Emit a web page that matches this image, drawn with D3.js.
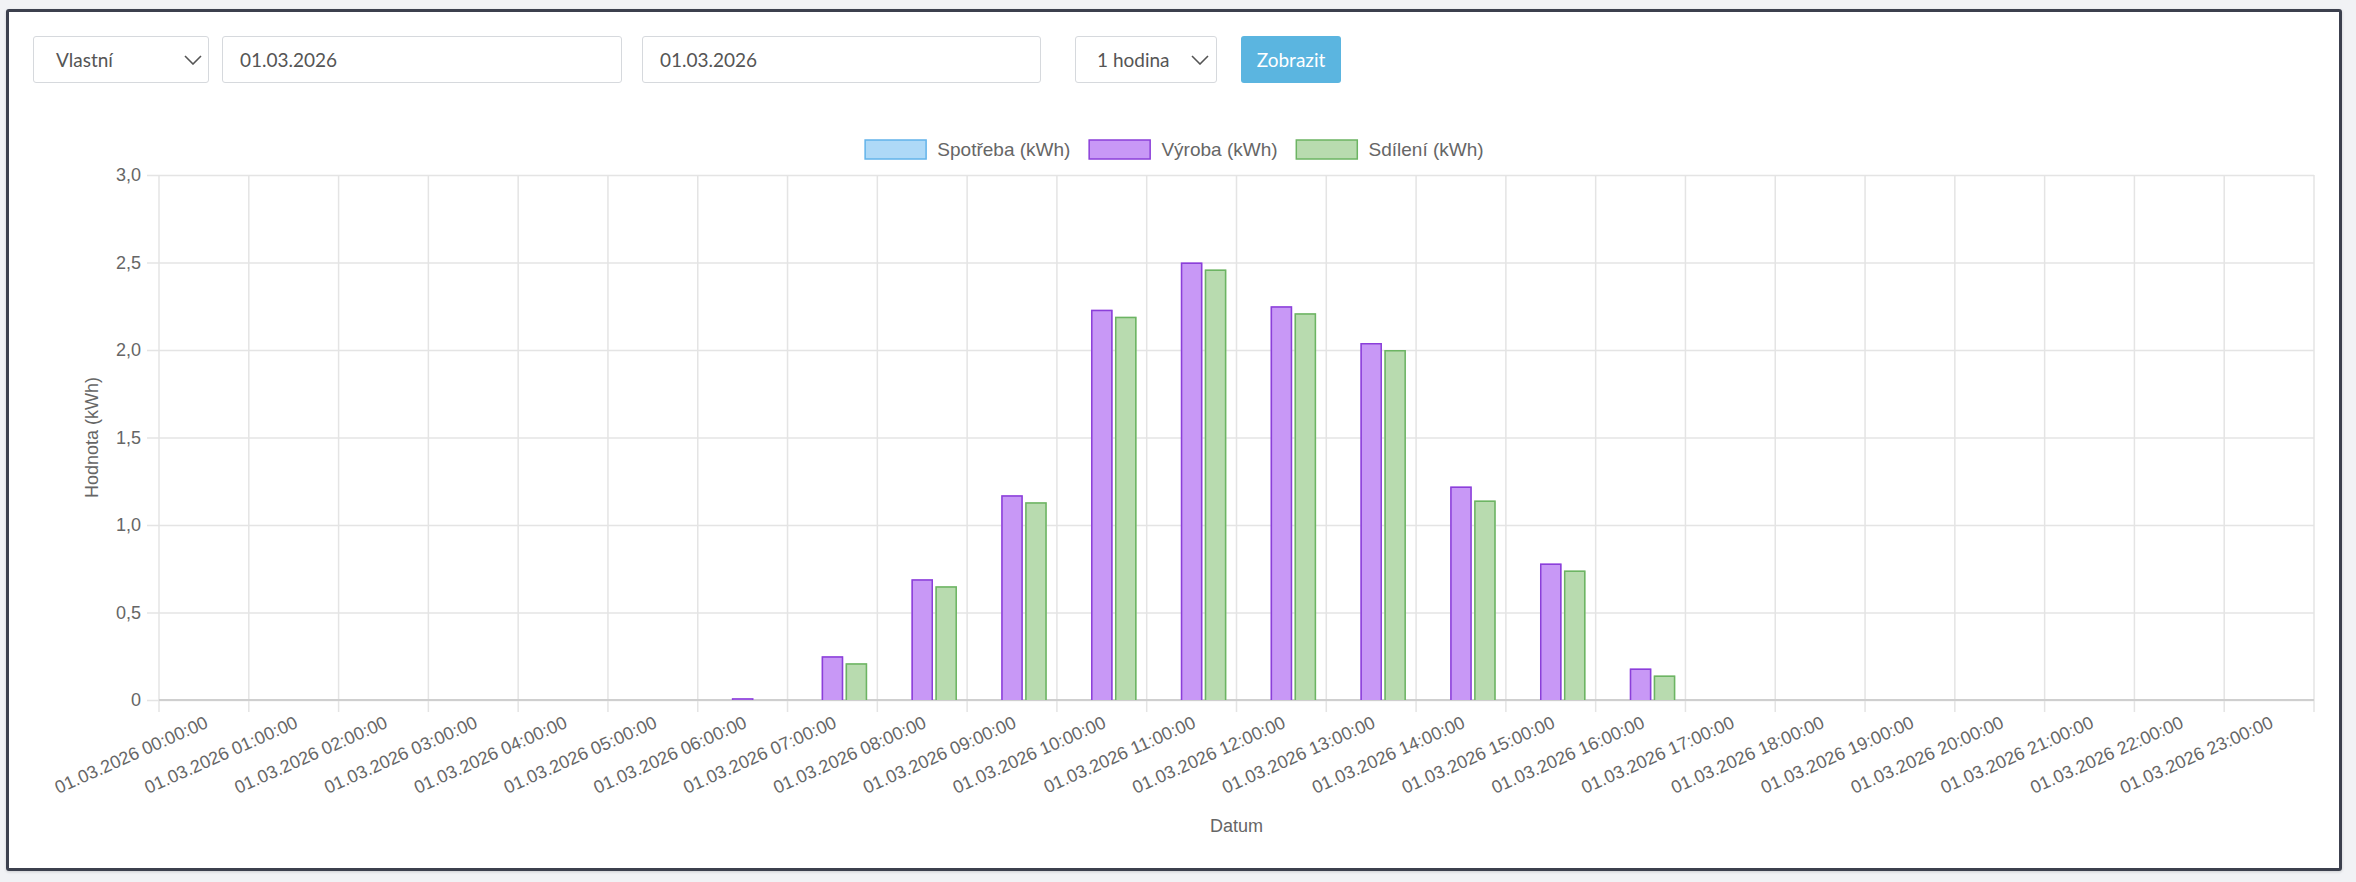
<!DOCTYPE html>
<html>
<head>
<meta charset="utf-8">
<script src="https://cdn.jsdelivr.net/npm/d3@7"></script>
<style>
  html, body { margin: 0; padding: 0; }
  body { width: 2356px; height: 882px; background: #f1f2f5; position: relative; overflow: hidden; font-family: Lato, "Open Sans", sans-serif; }
  .frame { position: absolute; left: 6px; top: 9px; width: 2330px; height: 856px; border: 3px solid #3c404e; border-radius: 3px; background: #fff; box-shadow: 0 1px 3px rgba(0,0,0,0.15); }
  .ctl { position: absolute; top: 36px; height: 45px; border: 1px solid #d6d9dd; border-radius: 3px; background: #fff; box-sizing: content-box; font-size: 19px; color: #555; line-height: 45px; }
  .ctl span { position: absolute; top: 0; }
  .ctl svg { position: absolute; top: 18px; }
  .btn { position: absolute; top: 36px; height: 47px; left: 1241px; width: 100px; background: #5bb5e0; border-radius: 3px; color: #fff; font-size: 19px; line-height: 47px; text-align: center; }
  #chart { position: absolute; left: 0; top: 0; }
</style>
</head>
<body>
<div class="frame"></div>
<div class="ctl" style="left:33px;width:174px"><span style="left:22px">Vlastní</span><svg width="18" height="10" style="left:150px"><path d="M1,1 L9,9 L17,1" fill="none" stroke="#555" stroke-width="1.6"/></svg></div>
<div class="ctl" style="left:222px;width:398px"><span style="left:17px">01.03.2026</span></div>
<div class="ctl" style="left:642px;width:397px"><span style="left:17px">01.03.2026</span></div>
<div class="ctl" style="left:1075px;width:140px"><span style="left:21px">1 hodina</span><svg width="18" height="10" style="left:115px"><path d="M1,1 L9,9 L17,1" fill="none" stroke="#555" stroke-width="1.6"/></svg></div>
<div class="btn">Zobrazit</div>
<svg id="chart" width="2356" height="882"></svg>
<script>
// hodinove hodnoty 01.03.2026
let labels = [
  "01.03.2026 00:00:00", "01.03.2026 01:00:00", "01.03.2026 02:00:00", "01.03.2026 03:00:00",
  "01.03.2026 04:00:00", "01.03.2026 05:00:00", "01.03.2026 06:00:00", "01.03.2026 07:00:00",
  "01.03.2026 08:00:00", "01.03.2026 09:00:00", "01.03.2026 10:00:00", "01.03.2026 11:00:00",
  "01.03.2026 12:00:00", "01.03.2026 13:00:00", "01.03.2026 14:00:00", "01.03.2026 15:00:00",
  "01.03.2026 16:00:00", "01.03.2026 17:00:00", "01.03.2026 18:00:00", "01.03.2026 19:00:00",
  "01.03.2026 20:00:00", "01.03.2026 21:00:00", "01.03.2026 22:00:00", "01.03.2026 23:00:00"
]
let spotreba = [0,0,0,0,0,0,0,0,0,0,0,0,0,0,0,0,0,0,0,0,0,0,0,0]
let vyroba = [0,0,0,0,0,0,0.01,0.25,0.69,1.17,2.23,2.50,2.25,2.04,1.22,0.78,0.18,0,0,0,0,0,0,0]
let sdileni = [0,0,0,0,0,0,0,0.21,0.65,1.13,2.19,2.46,2.21,2.00,1.14,0.74,0.14,0,0,0,0,0,0,0]
let seriesNames = ["Spotřeba (kWh)", "Výroba (kWh)", "Sdílení (kWh)"]
let yTicks = [0, 0.5, 1, 1.5, 2, 2.5, 3]

let fills = ["#aed9f7", "#c898f6", "#b8dbaf"]
let strokes = ["#62b3ea", "#8b3fd9", "#6cb463"]

let plotLeft = 159, plotRight = 2314, plotTop = 175, plotBottom = 700
let font = "'Liberation Sans', Arial, sans-serif"
let grid = "#e4e4e4"

let svg = d3.select('#chart')

let xScale = d3.scaleBand().domain(labels).range([plotLeft, plotRight]).padding(0)
let bw = xScale.bandwidth()
let inner = d3.scaleBand().domain(seriesNames).range([bw * 0.1, bw * 0.9])
let yScale = d3.scaleLinear().domain([0, 3]).range([plotBottom, plotTop])

let fmt = v => v === 0 ? "0" : d3.format(".1f")(v).replace(".", ",")

// horizontal grid + y ticks
let yAxis = d3.axisLeft(yScale).tickValues(yTicks).tickSize(-(plotRight - plotLeft)).tickFormat(fmt).tickPadding(6)
let gy = svg.append('g').attr('transform', 'translate(' + plotLeft + ',0)').call(yAxis)
gy.select('.domain').remove()
gy.selectAll('line').attr('stroke', grid).attr('stroke-width', 1.5).attr('x1', -12)
gy.selectAll('text').attr('font-family', font).attr('font-size', 18).attr('fill', '#666').attr('x', -18)

// vertical grid lines at category boundaries
let bounds = labels.map(l => xScale(l)).concat([plotRight])
svg.append('g').selectAll('line').data(bounds).join('line')
  .attr('x1', d => d).attr('x2', d => d)
  .attr('y1', plotTop).attr('y2', plotBottom + 12)
  .attr('stroke', grid).attr('stroke-width', 1.5)

// x axis baseline
svg.append('line').attr('x1', plotLeft).attr('x2', plotRight).attr('y1', plotBottom).attr('y2', plotBottom)
  .attr('stroke', '#cfcfcf').attr('stroke-width', 2)

// x labels (rotated)
let xl = svg.append('g').selectAll('g').data(labels).join('g')
  .attr('transform', d => 'translate(' + (xScale(d) + bw / 2) + ',' + (plotBottom + 15) + ') rotate(-24)')
xl.append('text').text(d => d)
  .attr('text-anchor', 'end').attr('dy', '0.72em')
  .attr('font-family', font).attr('font-size', 18).attr('fill', '#666')

// bars
let allSeries = [spotreba, vyroba, sdileni]
allSeries.forEach((vals, si) => {
  let g = svg.append('g')
  let bwid = inner.bandwidth() * 0.9
  let off = inner.bandwidth() * 0.05
  vals.forEach((v, i) => {
    if (v <= 0) return
    let x = xScale(labels[i]) + inner(seriesNames[si]) + off
    let y = yScale(v)
    g.append('rect').attr('x', x).attr('y', y).attr('width', bwid).attr('height', plotBottom - y)
      .attr('fill', fills[si])
    g.append('path')
      .attr('d', 'M' + (x + 0.75) + ',' + plotBottom + 'V' + (y + 0.75) + 'H' + (x + bwid - 0.75) + 'V' + plotBottom)
      .attr('fill', 'none').attr('stroke', strokes[si]).attr('stroke-width', 1.5)
  })
})

// axis titles
svg.append('text').text('Datum').attr('x', (plotLeft + plotRight) / 2).attr('y', 832)
  .attr('text-anchor', 'middle').attr('font-family', font).attr('font-size', 18).attr('fill', '#666')
svg.append('text').text('Hodnota (kWh)')
  .attr('transform', 'translate(98,' + ((plotTop + plotBottom) / 2) + ') rotate(-90)')
  .attr('text-anchor', 'middle').attr('font-family', font).attr('font-size', 18).attr('fill', '#666')

// legend, centred on the canvas
let lg = svg.append('g')
let items = seriesNames.map((name, i) => {
  let it = lg.append('g')
  it.append('rect').attr('x', 0.75).attr('y', -9.5).attr('width', 61).attr('height', 19)
    .attr('fill', fills[i]).attr('stroke', strokes[i]).attr('stroke-width', 1.5)
  let t = it.append('text').text(name).attr('x', 73).attr('dy', '0.35em')
    .attr('font-family', font).attr('font-size', 19).attr('fill', '#666')
  return { g: it, w: 73 + t.node().getComputedTextLength() }
})
let gap = 18
let total = d3.sum(items, d => d.w) + gap * (items.length - 1)
let cx = 1174 - total / 2
items.forEach(it => {
  it.g.attr('transform', 'translate(' + cx + ',149.5)')
  cx += it.w + gap
})
</script>
</body>
</html>
